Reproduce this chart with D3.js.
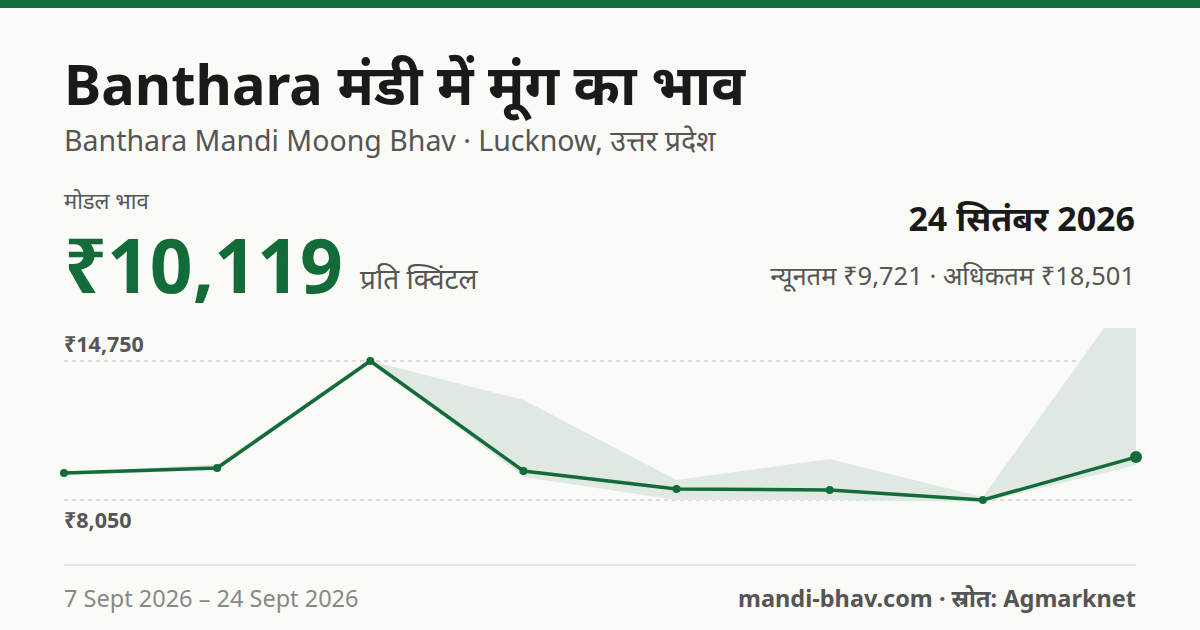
<!DOCTYPE html>
<html><head><meta charset="utf-8">
<script src="https://cdn.jsdelivr.net/npm/d3@7"></script>
<style>body{margin:0;background:#fafaf6;}svg{display:block;font-family:"Noto Sans",sans-serif;}</style>
</head><body>
<script>
var dates = ['7 Sept', '9 Sept', '11 Sept', '14 Sept', '16 Sept', '18 Sept', '21 Sept', '24 Sept'];
var modal = [9351, 9592, 14750, 9448, 8580, 8532, 8050, 10119];
var minP = [9255, 9495, 14750, 9158, 8050, 8050, 7954, 9721];
var maxP = [9351, 9785, 14750, 12869, 9014, 10026, 8195, 18501];
var ticks = [8050, 14750];

var W = 1200, H = 630, green = '#136b3a';
var svg = d3.select('body').append('svg').attr('width', W).attr('height', H);
svg.append('rect').attr('width', W).attr('height', H).attr('fill', '#fafaf6');
svg.append('rect').attr('width', W).attr('height', 8).attr('fill', green);

function txt(x, y, s, size, weight, fill, anchor) {
  return svg.append('text').attr('x', x).attr('y', y).text(s)
    .attr('font-size', size).attr('font-weight', weight).attr('fill', fill)
    .attr('text-anchor', anchor || 'start');
}
txt(64, 105, 'Banthara मंडी में मूंग का भाव', 56, 700, '#1a1a1a');
txt(64, 151, 'Banthara Mandi Moong Bhav · Lucknow, उत्तर प्रदेश', 28.5, 400, '#555');
txt(64, 209, 'मोडल भाव', 22, 400, '#555');
txt(64, 293, '₹10,119', 75, 700, green);
txt(360, 289, 'प्रति क्विंटल', 28, 400, '#555');
txt(1135, 231, '24 सितंबर 2026', 34, 700, '#1a1a1a', 'end');
txt(1135, 285, 'न्यूनतम ₹9,721 · अधिकतम ₹18,501', 25.5, 400, '#555', 'end');

var x = d3.scalePoint().domain(dates).range([64, 1136]);
var y = d3.scaleLinear().domain([8050, 14750]).range([500, 361]);

svg.append('clipPath').attr('id', 'c').append('rect')
  .attr('x', 0).attr('y', 328).attr('width', W).attr('height', 230);

svg.selectAll('.grid').data(ticks).enter().append('line')
  .attr('x1', 64).attr('x2', 1136).attr('y1', d => y(d)).attr('y2', d => y(d))
  .attr('stroke', '#bbb').attr('stroke-dasharray', '4,4');
txt(64, 352, '₹' + d3.format(',')(ticks[1]), 21.5, 700, '#555');
txt(64, 528, '₹' + d3.format(',')(ticks[0]), 21.5, 700, '#555');

var area = d3.area().x((d, i) => x(dates[i])).y0((d, i) => y(minP[i])).y1(d => y(d));
svg.append('path').datum(maxP).attr('d', area).attr('fill', '#dfe9e1').attr('clip-path', 'url(#c)');

var line = d3.line().x((d, i) => x(dates[i])).y(d => y(d));
svg.append('path').datum(modal).attr('d', line).attr('fill', 'none')
  .attr('stroke', green).attr('stroke-width', 3.5);
svg.selectAll('.pt').data(modal).enter().append('circle')
  .attr('cx', (d, i) => x(dates[i])).attr('cy', d => y(d))
  .attr('r', (d, i) => i === modal.length - 1 ? 6 : 4).attr('fill', green);

svg.append('line').attr('x1', 64).attr('x2', 1136).attr('y1', 565).attr('y2', 565)
  .attr('stroke', '#ddd').attr('stroke-width', 1.5);
txt(64, 607, '7 Sept 2026 – 24 Sept 2026', 23.5, 400, '#888');
txt(1136, 607, 'mandi-bhav.com · स्रोत: Agmarknet', 23.5, 700, '#555', 'end');
</script>
</body></html>
